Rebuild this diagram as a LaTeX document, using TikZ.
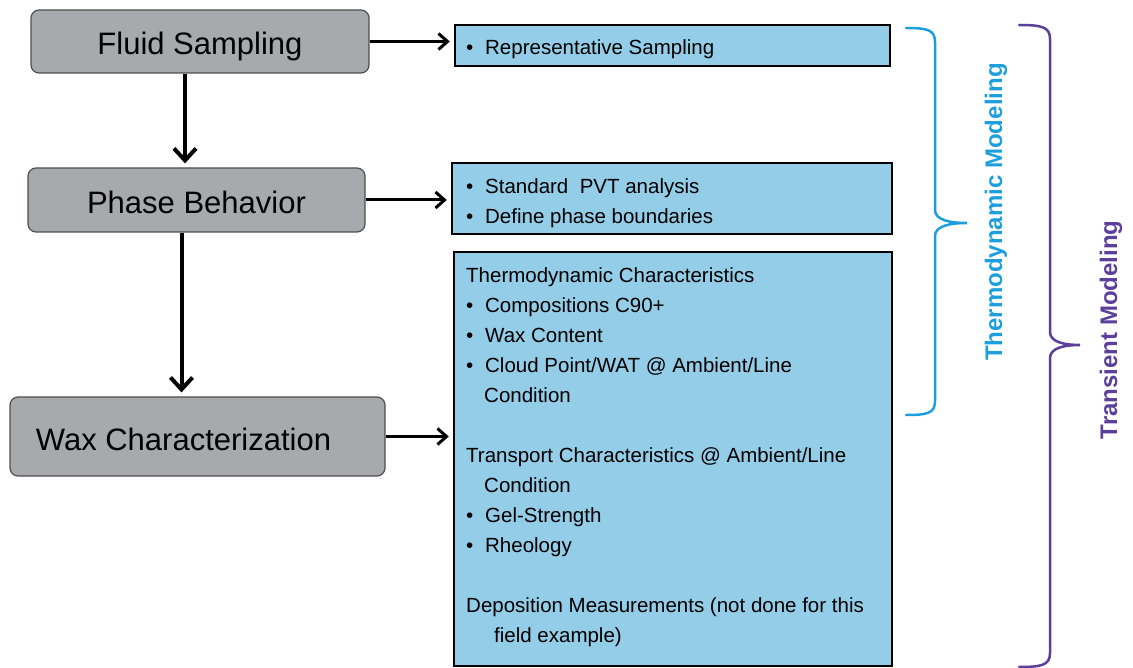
\documentclass[tikz,border=0pt]{standalone}
\usepackage{fontspec}
\setmainfont{Liberation Sans}
\usepackage{tikz}
\usetikzlibrary{arrows.meta}

\definecolor{stepgray}{HTML}{A7A9AC}
\definecolor{stepline}{HTML}{4D4E50}
\definecolor{notefill}{HTML}{93CDE7}
\definecolor{thermoblue}{HTML}{1E9FDD}
\definecolor{transpurple}{HTML}{5B3F9B}

\newcommand{\notebullet}{\makebox[19pt][l]{•}}

\begin{document}
\begin{tikzpicture}[x=1pt,y=-1pt]
                \tikzstyle{stepbox}=[rectangle, rounded corners=8pt, draw=stepline, fill=stepgray, line width=1.2pt, inner sep=0pt, text height=27pt, text depth=0pt, font=\fontsize{31}{36}\selectfont]
                \tikzstyle{notebox}=[rectangle, draw=black, fill=notefill, line width=2.5pt, inner sep=0pt]
                \tikzstyle{notetext}=[anchor=north west, align=left, inner sep=0pt, font=\fontsize{20.5}{30}\selectfont]
                \tikzstyle{edge} = [draw, line width=3pt, -{Straight Barb[length=9pt,width=16pt]}, shorten >=4pt]
                \tikzstyle{down} = [draw, line width=4pt, -{Straight Barb[length=12pt,width=22pt]}, shorten >=4pt]
                \tikzstyle{brace}=[line width=2.5pt, line cap=round]
                \tikzstyle{bracelabel}=[rotate=90, inner sep=0pt, font=\bfseries\fontsize{24}{28}\selectfont]

                \useasboundingbox (0,0) rectangle (1133,668);

                \node[stepbox, minimum width=338, minimum height=63] (fluid) at (200,41.5) {Fluid Sampling};
                \node[stepbox, minimum width=337, minimum height=64] (phase) at (196.5,200) {Phase Behavior};
                \node[stepbox, minimum width=375, minimum height=79] (wax) at (197.5,436.5) {Wax Characterization\hspace*{28pt}};

                \node[notebox, minimum width=435, minimum height=41] (sampling) at (672.5,45.5) {};
                \node[notebox, minimum width=440, minimum height=71] (pvt) at (672,198.5) {};
                \node[notebox, minimum width=438, minimum height=414] (waxnote) at (673,459) {};

                \node[notetext] (samplingtext) at (466,39) {\notebullet Representative Sampling};
                \node[notetext] (pvttext) at (466,178) {\notebullet Standard\ \ PVT analysis\\
                    \notebullet Define phase boundaries};
                \node[notetext] (waxtext) at (466,267) {Thermodynamic Characteristics\\
                    \notebullet Compositions C90+\\
                    \notebullet Wax Content\\
                    \notebullet Cloud Point/WAT @ Ambient/Line\\
                    \hspace*{18pt}Condition\\[30pt]
                    Transport Characteristics @ Ambient/Line\\
                    \hspace*{18pt}Condition\\
                    \notebullet Gel-Strength\\
                    \notebullet Rheology\\[30pt]
                    Deposition Measurements (not done for this\\
                    \hspace*{28pt}field example)};

                \draw[brace, thermoblue] (906,28) .. controls (928,28) and (935,30) .. (935,42) -- (935,210)
                    .. controls (935,220) and (950,223) .. (967,223) .. controls (950,223) and (935,226) .. (935,236)
                    -- (935,401) .. controls (935,413) and (928,415) .. (906,415);
                \draw[brace, transpurple] (1019,25) .. controls (1042,25) and (1050,27) .. (1050,39) -- (1050,332)
                    .. controls (1050,342) and (1064,345) .. (1080,345) .. controls (1064,345) and (1050,348) .. (1050,358)
                    -- (1050,653) .. controls (1050,665) and (1042,667) .. (1019,667);

                \node[bracelabel, text=thermoblue] (thermolabel) at (996,212) {Thermodynamic Modeling};
                \node[bracelabel, text=transpurple] (translabel) at (1111,330) {Transient Modeling};

                \foreach \source/ \dest in {fluid/phase, phase/wax}
                \path[down] ([xshift=-15pt]\source.south) -- ([xshift=-15pt]\source.south |- \dest.north);
                \foreach \source/ \dest in {fluid/sampling, phase/pvt, wax/waxnote}
                \path[edge] (\source.east) -- (\source.east -| \dest.west);
\end{tikzpicture}
\end{document}
